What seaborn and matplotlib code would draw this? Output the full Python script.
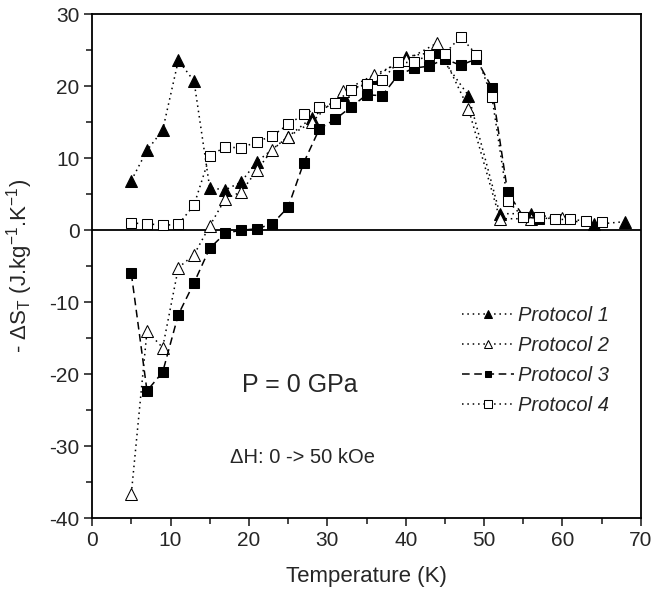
import matplotlib
matplotlib.use('Agg')
import matplotlib.pyplot as plt
import seaborn as sns
from matplotlib import font_manager

sns.set_style('ticks')

# narrow sans if it is there, else plain Liberation Sans
names = {f.name for f in font_manager.fontManager.ttflist}
font = 'Liberation Sans Narrow' if 'Liberation Sans Narrow' in names else 'Liberation Sans'
plt.rcParams['font.family'] = [font, 'DejaVu Sans']
plt.rcParams['mathtext.fontset'] = 'custom'
plt.rcParams['mathtext.rm'] = font
plt.rcParams['mathtext.it'] = font + ':italic'
plt.rcParams['axes.unicode_minus'] = False

# ---- data ----
t1 = [5, 7, 9, 11, 13, 15, 17, 19, 21, 25, 28, 32, 36, 40, 44, 48, 52, 56, 64, 68]
s1 = [6.9, 11.1, 13.9, 23.6, 20.7, 5.9, 5.6, 6.7, 9.5, 13.0, 15.6, 18.8, 21.2, 24.1, 24.8, 18.7, 2.3, 2.3, 0.8, 1.2]

t2 = [5, 7, 9, 11, 13, 15, 17, 19, 21, 23, 25, 28, 32, 36, 40, 44, 48, 52, 56, 60]
s2 = [-36.6, -14.0, -16.3, -5.2, -3.4, 0.6, 4.4, 5.3, 8.3, 11.2, 13.0, 15.0, 19.3, 21.6, 23.6, 26.0, 16.9, 1.6, 1.6, 1.7]

t3 = [5, 7, 9, 11, 13, 15, 17, 19, 21, 23, 25, 27, 29, 31, 33, 35, 37, 39, 41, 43, 45, 47, 49, 51, 53, 55, 57]
s3 = [-6.0, -22.3, -19.7, -11.7, -7.3, -2.5, -0.4, 0.0, 0.2, 0.9, 3.2, 9.4, 14.1, 15.4, 17.1, 18.8, 18.7,
      21.5, 22.5, 22.8, 23.8, 22.9, 23.8, 19.8, 5.3, 1.9, 1.6]

t4 = [5, 7, 9, 11, 13, 15, 17, 19, 21, 23, 25, 27, 29, 31, 33, 35, 37, 39, 41, 43, 45, 47, 49, 51, 53,
      55, 57, 59, 61, 63, 65]
s4 = [1.0, 0.9, 0.7, 0.8, 3.5, 10.3, 11.6, 11.4, 12.3, 13.1, 14.7, 16.1, 17.1, 17.7, 19.5, 20.3, 20.9,
      23.3, 23.3, 24.4, 24.5, 26.9, 24.4, 18.5, 4.1, 1.8, 1.8, 1.5, 1.5, 1.3, 1.2]

labels = ['Protocol 1', 'Protocol 2', 'Protocol 3', 'Protocol 4']

fig, ax = plt.subplots(figsize=(6.58, 5.93), dpi=100)
fig.subplots_adjust(left=0.14, right=0.974, bottom=0.126, top=0.976)

ax.axhline(0, color='black', lw=1.3, zorder=1)

dots = (0, (1, 2.5))
sns.lineplot(x=t1, y=s1, ax=ax, color='black', linestyle=dots, lw=1.1,
             marker='^', markersize=9, markerfacecolor='black', markeredgecolor='black', label=labels[0])
sns.lineplot(x=t2, y=s2, ax=ax, color='black', linestyle=dots, lw=1.1,
             marker='^', markersize=9, markerfacecolor='white', markeredgecolor='black', label=labels[1])
sns.lineplot(x=t3, y=s3, ax=ax, color='black', linestyle=(0, (5, 3)), lw=1.1,
             marker='s', markersize=7, markerfacecolor='black', markeredgecolor='black', label=labels[2])
sns.lineplot(x=t4, y=s4, ax=ax, color='black', linestyle=dots, lw=1.1,
             marker='s', markersize=7.5, markerfacecolor='white', markeredgecolor='black', label=labels[3])

ax.set_xlim(0, 70)
ax.set_ylim(-40, 30)
ax.set_xticks(range(0, 71, 10))
ax.set_xticks(range(5, 70, 10), minor=True)
ax.set_yticks(range(-40, 31, 10))
ax.set_yticks(range(-35, 30, 10), minor=True)
ax.tick_params(which='major', direction='out', length=6, width=1.2, labelsize=15, pad=3)
ax.tick_params(which='minor', direction='out', length=4, width=1.2)
for sp in ax.spines.values():
    sp.set_linewidth(1.3)
    sp.set_color('black')

ax.set_xlabel('Temperature (K)', fontsize=16, labelpad=12)
ax.set_ylabel('- ΔS$_\\mathregular{T}$ (J.kg$^{\\mathregular{-1}}$.K$^{\\mathregular{-1}}$)', fontsize=16, labelpad=10)

ax.text(26.5, -21.5, 'P = 0 GPa', fontsize=18, ha='center', va='center')
ax.text(26.8, -31.5, 'ΔH: 0 -> 50 kOe', fontsize=14.5, ha='center', va='center')

leg = ax.legend(loc='upper left', bbox_to_anchor=(0.674, 0.422), frameon=False,
                borderpad=0, borderaxespad=0,
                handlelength=2.6, handletextpad=0.2, labelspacing=0.55, markerscale=0.7,
                prop={'style': 'italic', 'size': 14.5})

fig.savefig('out.png', dpi=100)
